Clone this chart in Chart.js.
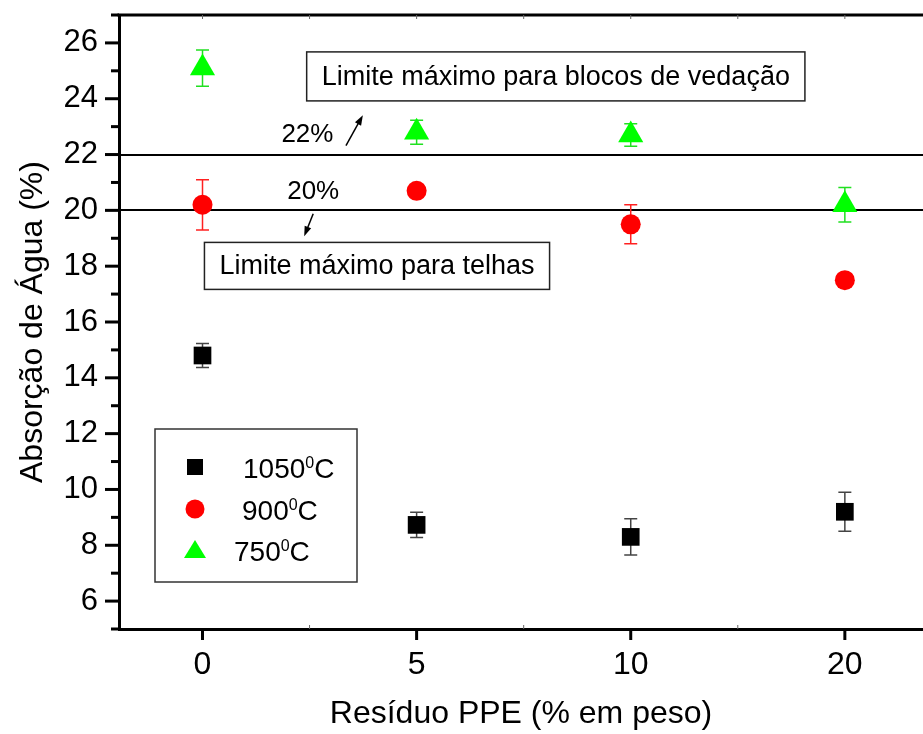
<!DOCTYPE html>
<html>
<head>
<meta charset="utf-8">
<script src="https://cdn.jsdelivr.net/npm/chart.js@4.4.0/dist/chart.umd.min.js"></script>
<style>
  html, body { margin: 0; padding: 0; background: #fff; overflow: hidden; }
  canvas { display: block; }
</style>
</head>
<body>
<canvas id="absChart" width="923" height="734"></canvas>
<script>
// x categories (% residue) and the three firing temperatures
const residueLabels = ["0", "5", "10", "20"];
const tempNames = ["1050", "900", "750"];

const abs1050 = [14.8, 8.73, 8.3, 9.2];
const err1050 = [0.43, 0.45, 0.65, 0.7];
const abs900 = [20.2, 20.7, 19.5, 17.5];
const err900 = [0.9, 0, 0.7, 0];
const abs750 = [25.1, 22.8, 22.7, 20.2];
const err750 = [0.65, 0.43, 0.4, 0.62];

const yTickValues = [6, 8, 10, 12, 14, 16, 18, 20, 22, 24, 26];
const limitValues = [22, 20];
const limitLabels = ["22%", "20%"];
const limitNotes = ["Limite máximo para blocos de vedação", "Limite máximo para telhas"];

const FONT = "'Liberation Sans', Arial, Helvetica, sans-serif";
Chart.defaults.font.family = FONT;
Chart.defaults.color = "#000";

const toPoints = vals => residueLabels.map((_, i) => ({ x: i, y: vals[i] }));

// where the notes sit, in data units (x = category index, y = %)
const notes = [
  { text: limitNotes[0], x: 1.65, y: 24.8, h: 49 },
  { text: limitNotes[1], x: 0.815, y: 18.01, h: 47 }
];
const pctLabels = [
  { text: limitLabels[0], x: 0.49, y: 22.69 },
  { text: limitLabels[1], x: 0.517, y: 20.65 }
];
const arrows = [
  { from: [0.67, 22.32], to: [0.749, 23.41] },
  { from: [0.517, 19.88], to: [0.475, 19.07] }
];

function drawArrow(ctx, x1, y1, x2, y2) {
  const ang = Math.atan2(y2 - y1, x2 - x1);
  ctx.beginPath();
  ctx.moveTo(x1, y1);
  ctx.lineTo(x2 - Math.cos(ang) * 6, y2 - Math.sin(ang) * 6);
  ctx.lineWidth = 1.5;
  ctx.stroke();
  ctx.beginPath();
  ctx.moveTo(x2, y2);
  ctx.lineTo(x2 - Math.cos(ang) * 10 + Math.sin(ang) * 3.5, y2 - Math.sin(ang) * 10 - Math.cos(ang) * 3.5);
  ctx.lineTo(x2 - Math.cos(ang) * 10 - Math.sin(ang) * 3.5, y2 - Math.sin(ang) * 10 + Math.cos(ang) * 3.5);
  ctx.closePath();
  ctx.fill();
}

function noPadding(s) {
  s.paddingTop = 0;
  s.paddingBottom = 0;
  s.paddingLeft = 0;
  s.paddingRight = 0;
}

const decor = {
  id: "decor",
  beforeDatasetsDraw(chart) {
    const { ctx, chartArea: a, scales: { x, y } } = chart;
    ctx.save();
    // limit lines
    ctx.strokeStyle = "#000";
    ctx.lineWidth = 2;
    limitValues.forEach(v => {
      const py = Math.round(y.getPixelForValue(v));
      ctx.beginPath();
      ctx.moveTo(a.left, py);
      ctx.lineTo(a.right, py);
      ctx.stroke();
    });
    // error bars
    chart.data.datasets.forEach((ds, i) => {
      const meta = chart.getDatasetMeta(i);
      ctx.strokeStyle = ds.errColor;
      ctx.lineWidth = 1.5;
      ds.errors.forEach((e, j) => {
        if (!e) return;
        const px = meta.data[j].x;
        const v = ds.data[j].y;
        const t = y.getPixelForValue(v + e);
        const b = y.getPixelForValue(v - e);
        ctx.beginPath();
        ctx.moveTo(px, t); ctx.lineTo(px, b);
        ctx.moveTo(px - 6.5, t); ctx.lineTo(px + 6.5, t);
        ctx.moveTo(px - 6.5, b); ctx.lineTo(px + 6.5, b);
        ctx.stroke();
      });
    });
    ctx.restore();
  },
  afterDraw(chart) {
    const { ctx, chartArea: a, scales: { x, y } } = chart;
    ctx.save();
    ctx.strokeStyle = "#000";
    ctx.fillStyle = "#000";

    // top frame
    ctx.lineWidth = 3;
    ctx.beginPath();
    ctx.moveTo(a.left - 1.5, a.top);
    ctx.lineTo(a.right, a.top);
    ctx.stroke();

    // y ticks, major every 2, minor in between
    for (let v = y.min; v <= y.max; v++) {
      const py = y.getPixelForValue(v);
      const len = v % 2 === 0 ? 14 : 8;
      ctx.lineWidth = 3;
      ctx.beginPath();
      ctx.moveTo(a.left, py);
      ctx.lineTo(a.left - len, py);
      ctx.stroke();
    }
    // x ticks
    residueLabels.forEach((_, i) => {
      const px = x.getPixelForValue(i);
      ctx.lineWidth = 3;
      ctx.beginPath();
      ctx.moveTo(px, a.bottom);
      ctx.lineTo(px, a.bottom + 11);
      ctx.stroke();
      ctx.lineWidth = 1;
      ctx.strokeStyle = "#666";
      ctx.beginPath();
      ctx.moveTo(px, a.top);
      ctx.lineTo(px, a.top + 4);
      const pm = x.getPixelForValue(i + 0.5);
      ctx.moveTo(pm, a.top);
      ctx.lineTo(pm, a.top + 4);
      ctx.moveTo(pm, a.bottom);
      ctx.lineTo(pm, a.bottom - 4);
      ctx.stroke();
      ctx.strokeStyle = "#000";
    });

    // limit notes
    ctx.font = "27px " + FONT;
    ctx.textAlign = "center";
    ctx.textBaseline = "middle";
    notes.forEach(n => {
      const cx = x.getPixelForValue(n.x);
      const cy = y.getPixelForValue(n.y);
      const w = ctx.measureText(n.text).width + 30;
      ctx.fillStyle = "#fff";
      ctx.fillRect(cx - w / 2, cy - n.h / 2, w, n.h);
      ctx.strokeStyle = "#222";
      ctx.lineWidth = 1.5;
      ctx.strokeRect(cx - w / 2, cy - n.h / 2, w, n.h);
      ctx.fillStyle = "#000";
      ctx.fillText(n.text, cx, cy + 1);
    });
    ctx.font = "26px " + FONT;
    pctLabels.forEach(p => {
      ctx.fillText(p.text, x.getPixelForValue(p.x), y.getPixelForValue(p.y));
    });
    ctx.strokeStyle = "#000";
    arrows.forEach(ar => {
      drawArrow(ctx,
        x.getPixelForValue(ar.from[0]), y.getPixelForValue(ar.from[1]),
        x.getPixelForValue(ar.to[0]), y.getPixelForValue(ar.to[1]));
    });

    // legend box
    const lx = a.left + 36, ly = a.top + 414;
    ctx.fillStyle = "#fff";
    ctx.fillRect(lx, ly, 202, 153);
    ctx.strokeStyle = "#333";
    ctx.lineWidth = 1.5;
    ctx.strokeRect(lx, ly, 202, 153);
    const rowY = [452, 494, 535];
    const textX = [124, 123, 115];
    chart.data.datasets.forEach((ds, i) => {
      const my = a.top + rowY[i];
      const mx = a.left + 76;
      ctx.fillStyle = ds.backgroundColor;
      ctx.beginPath();
      if (ds.pointStyle === "rect") {
        ctx.rect(mx - 8, my - 8, 16, 16);
      } else if (ds.pointStyle === "circle") {
        ctx.arc(mx, my, 9.5, 0, Math.PI * 2);
      } else {
        ctx.moveTo(mx, my - 10);
        ctx.lineTo(mx + 11, my + 8);
        ctx.lineTo(mx - 11, my + 8);
        ctx.closePath();
      }
      ctx.fill();
      ctx.fillStyle = "#000";
      ctx.textAlign = "left";
      ctx.textBaseline = "alphabetic";
      let tx = a.left + textX[i];
      const base = my + 10.5;
      ctx.font = "28px " + FONT;
      ctx.fillText(tempNames[i], tx, base);
      tx += ctx.measureText(tempNames[i]).width;
      ctx.font = "16px " + FONT;
      ctx.fillText("0", tx, base - 10);
      tx += ctx.measureText("0").width;
      ctx.font = "28px " + FONT;
      ctx.fillText("C", tx, base);
    });
    ctx.restore();
  }
};

const ctx = document.getElementById("absChart").getContext("2d");
new Chart(ctx, {
  type: "scatter",
  data: {
    datasets: [
      {
        label: tempNames[0] + "°C",
        data: toPoints(abs1050),
        errors: err1050,
        errColor: "#444",
        pointStyle: "rect",
        pointRadius: 12.5,
        backgroundColor: "#000",
        borderColor: "#000",
        borderWidth: 0
      },
      {
        label: tempNames[1] + "°C",
        data: toPoints(abs900),
        errors: err900,
        errColor: "#ff2020",
        pointStyle: "circle",
        pointRadius: 10,
        backgroundColor: "#ff0000",
        borderColor: "#ff0000",
        borderWidth: 0
      },
      {
        label: tempNames[2] + "°C",
        data: toPoints(abs750),
        errors: err750,
        errColor: "#20e020",
        pointStyle: "triangle",
        pointRadius: 14.5,
        backgroundColor: "#00ff00",
        borderColor: "#00ff00",
        borderWidth: 0
      }
    ]
  },
  options: {
    responsive: false,
    animation: false,
    layout: { autoPadding: false, padding: { top: 15, right: 0, bottom: 0, left: 0 } },
    plugins: {
      legend: { display: false },
      tooltip: { enabled: false }
    },
    scales: {
      x: {
        type: "linear",
        min: -0.39,
        max: 3.365,
        afterBuildTicks: s => { s.ticks = residueLabels.map((_, i) => ({ value: i })); },
        afterFit: s => { s.height = 105; noPadding(s); },
        ticks: {
          callback: v => residueLabels[v],
          font: { size: 32 },
          padding: 17,
          maxRotation: 0,
          autoSkip: false
        },
        grid: { display: false, drawTicks: false },
        border: { display: true, color: "#000", width: 3 },
        title: {
          display: true,
          text: "Resíduo PPE (% em peso)",
          font: { size: 32 },
          padding: { top: 0, bottom: 1 }
        }
      },
      y: {
        min: 5,
        max: 27,
        afterBuildTicks: s => { s.ticks = yTickValues.map(v => ({ value: v })); },
        afterFit: s => { s.width = 119; noPadding(s); },
        ticks: { font: { size: 31 }, padding: 21 },
        grid: { display: false, drawTicks: false },
        border: { display: true, color: "#000", width: 3 },
        title: {
          display: true,
          text: "Absorção de Água (%)",
          font: { size: 32 },
          padding: { top: 14, bottom: 0 }
        }
      }
    }
  },
  plugins: [decor]
});
</script>
</body>
</html>
